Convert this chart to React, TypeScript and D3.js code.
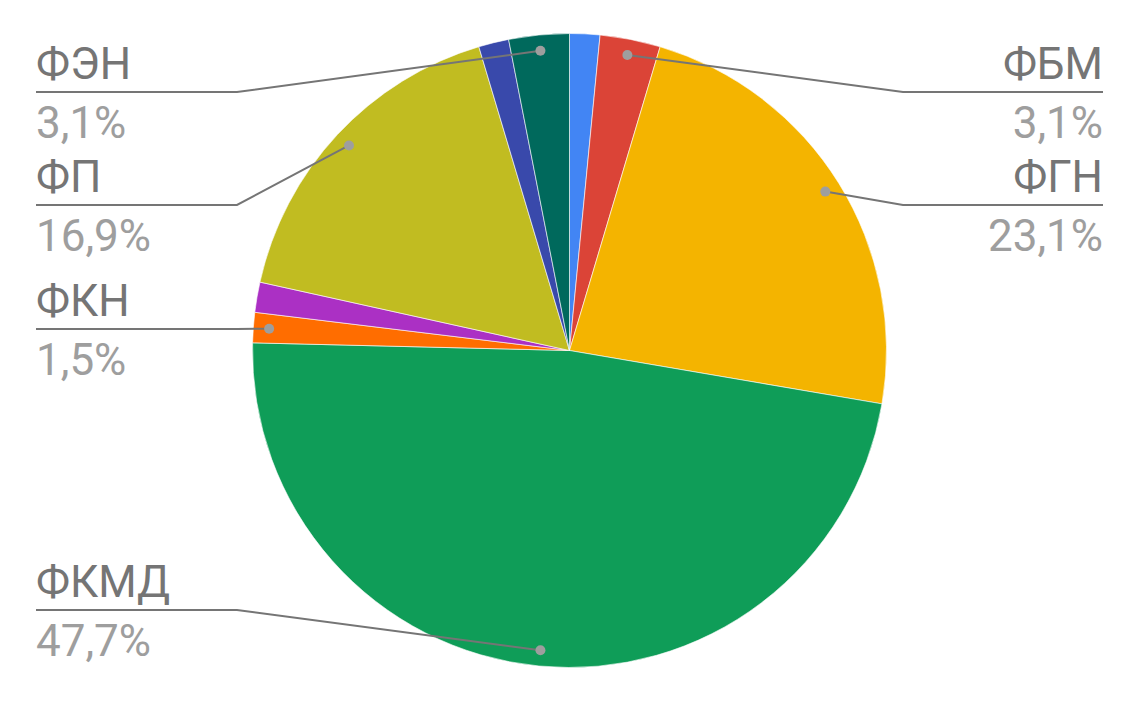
import React from "react";
import * as d3 from "d3";

const categories = ["", "ФБМ", "ФГН", "ФКМД", "ФКН", "", "ФП", "", "ФЭН"];
const counts = [1, 2, 15, 31, 1, 1, 11, 1, 2];
const colors = ["#4285F4", "#DB4437", "#F4B400", "#0F9D58", "#FF6D00", "#AB30C4", "#C1BC21", "#3949AB", "#00695C"];

// label layout: y of the underline for each labelled slice
const labelLineY: Record<string, number> = { "ФБМ": 92, "ФГН": 205, "ФКМД": 610, "ФКН": 329, "ФП": 205, "ФЭН": 92 };

const W = 1139, H = 703;
const cx = 569.5, cy = 350.5, R = 317;
const leftEdge = 36, leftElbow = 237, rightEdge = 1103, rightElbow = 903;

export default function App() {
  const total = d3.sum(counts);
  const pie = d3.pie<number>().sort(null).value((d) => d);
  const arcs = pie(counts);
  const arcGen = d3.arc<d3.PieArcDatum<number>>().innerRadius(0).outerRadius(R);
  const fmt = (v: number) => ((v / total) * 100).toFixed(1).replace(".", ",") + "%";

  return (
    <svg width={W} height={H} style={{ position: "absolute", left: 0, top: 0, background: "#fff" }}
      fontFamily="Roboto, 'Noto Sans', sans-serif">
      <g transform={`translate(${cx},${cy})`}>
        {arcs.map((a, i) => (
          <path key={i} d={arcGen(a) || ""} fill={colors[i]} stroke="#ffffff" strokeWidth={0.6} />
        ))}
      </g>
      {arcs.map((a, i) => {
        const name = categories[i];
        if (!name) return null;
        const mid = (a.startAngle + a.endAngle) / 2;
        const dx = cx + Math.sin(mid) * R * 0.95;
        const dy = cy - Math.cos(mid) * R * 0.95;
        const ly = labelLineY[name];
        const right = Math.sin(mid) > 0;
        const elbow = right ? rightElbow : leftElbow;
        const edge = right ? rightEdge : leftEdge;
        const anchor = right ? "end" : "start";
        return (
          <g key={"l" + i}>
            <polyline points={`${dx},${dy} ${elbow},${ly} ${edge},${ly}`} fill="none" stroke="#757575" strokeWidth={2} />
            <circle cx={dx} cy={dy} r={5} fill="#9E9E9E" />
            <text x={edge} y={ly - 13} fontSize={44} fill="#757575" textAnchor={anchor}>{name}</text>
            <text x={edge} y={ly + 46} fontSize={44} fill="#9E9E9E" textAnchor={anchor}>{fmt(a.value)}</text>
          </g>
        );
      })}
    </svg>
  );
}
